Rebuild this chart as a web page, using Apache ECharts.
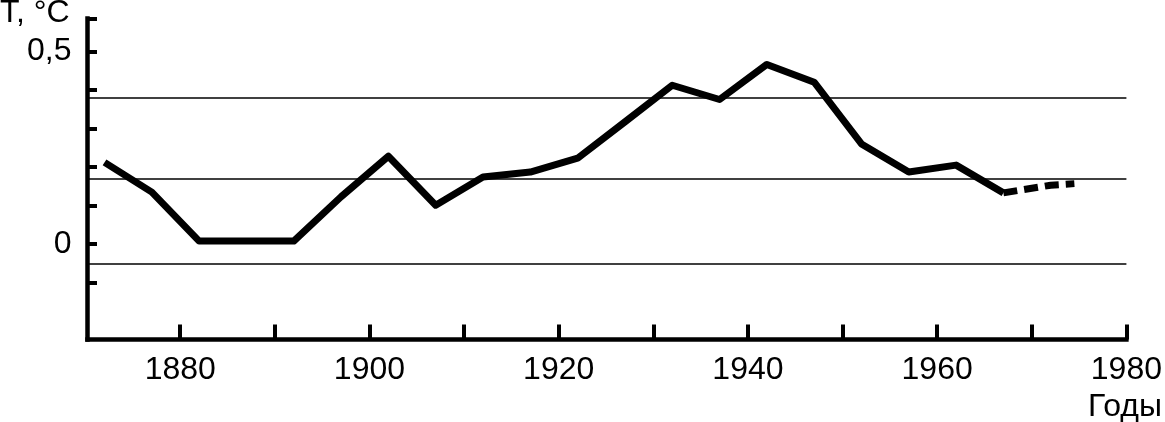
<!DOCTYPE html>
<html>
<head>
<meta charset="utf-8">
<script src="https://cdn.jsdelivr.net/npm/echarts@6/dist/echarts.min.js"></script>
<style>
  html, body { margin: 0; padding: 0; background: #fff; }
  #chart { width: 1165px; height: 422px; }
</style>
</head>
<body>
<div id="chart"></div>
<script>
// ---- data ----
const years = [1872, 1877, 1882, 1887, 1892, 1897, 1902, 1907, 1912, 1917, 1922, 1927, 1932, 1937, 1942, 1947, 1952, 1957, 1962, 1967];
const temps = [0.212, 0.135, 0.008, 0.008, 0.008, 0.123, 0.228, 0.101, 0.174, 0.187, 0.223, 0.317, 0.412, 0.375, 0.466, 0.420, 0.260, 0.187, 0.205, 0.133];
const yearsDashed = [1967, 1972, 1974.5];
const tempsDashed = [0.133, 0.153, 0.157];
const refLines = [0.378, 0.165, -0.046];
const xTicks = [1880, 1890, 1900, 1910, 1920, 1930, 1940, 1950, 1960, 1970, 1980];
const xLabels = [1880, 1900, 1920, 1940, 1960, 1980];
const yTicks = [-0.1, 0, 0.1, 0.2, 0.3, 0.4, 0.5];
const yLabels = [0, 0.5];
const xMin = 1870.2, xMax = 1980;
const yMin = -0.247, yMax = 0.585;
const yTitle = 'T, °C';
const xTitle = 'Годы';

const FONT = "'Liberation Sans', Arial, sans-serif";
const solid = years.map((y, i) => [y, temps[i]]);
const dashed = yearsDashed.map((y, i) => [y, tempsDashed[i]]);

const chart = echarts.init(document.getElementById('chart'), null, { renderer: 'canvas' });
chart.setOption({
  animation: false,
  backgroundColor: '#fff',
  grid: { left: 87.5, right: 34, top: 18.5, bottom: 82.5, containLabel: false },
  xAxis: {
    type: 'value', min: xMin, max: xMax,
    axisLine: { show: true, onZero: false, lineStyle: { color: '#000', width: 4.5, cap: 'square' } },
    axisTick: { show: true, inside: true, length: 15, customValues: xTicks, lineStyle: { color: '#000', width: 4 } },
    axisLabel: {
      show: true, customValues: xLabels, margin: 15,
      color: '#000', fontFamily: FONT, fontSize: 32,
      formatter: v => String(Math.round(v))
    },
    splitLine: { show: false }
  },
  yAxis: {
    type: 'value', min: yMin, max: yMax,
    axisLine: { show: true, onZero: false, lineStyle: { color: '#000', width: 4.5, cap: 'square' } },
    axisTick: { show: true, inside: true, length: 9.5, customValues: yTicks.concat([yMax]), lineStyle: { color: '#000', width: 4 } },
    axisLabel: {
      show: true, customValues: yLabels, margin: 16,
      color: '#000', fontFamily: FONT, fontSize: 32,
      formatter: v => (Math.abs(v) < 1e-9 ? '0' : String(v).replace('.', ','))
    },
    splitLine: { show: false }
  },
  graphic: [
    { type: 'text', left: 0, top: -3, style: { text: yTitle, fill: '#000', font: '32px ' + FONT } },
    { type: 'text', right: 3, bottom: -1, style: { text: xTitle, fill: '#000', font: '32px ' + FONT } }
  ],
  series: [
    {
      type: 'line', data: solid, symbol: 'none', z: 3,
      lineStyle: { color: '#000', width: 7, join: 'round' },
      markLine: {
        silent: true, symbol: 'none', label: { show: false },
        lineStyle: { color: '#000', width: 1.5, type: 'solid' },
        data: refLines.map(v => ({ yAxis: v }))
      }
    },
    {
      type: 'line', data: dashed, symbol: 'none', z: 3,
      lineStyle: { color: '#000', width: 7, type: [14, 7], join: 'round' }
    }
  ]
});
</script>
</body>
</html>
